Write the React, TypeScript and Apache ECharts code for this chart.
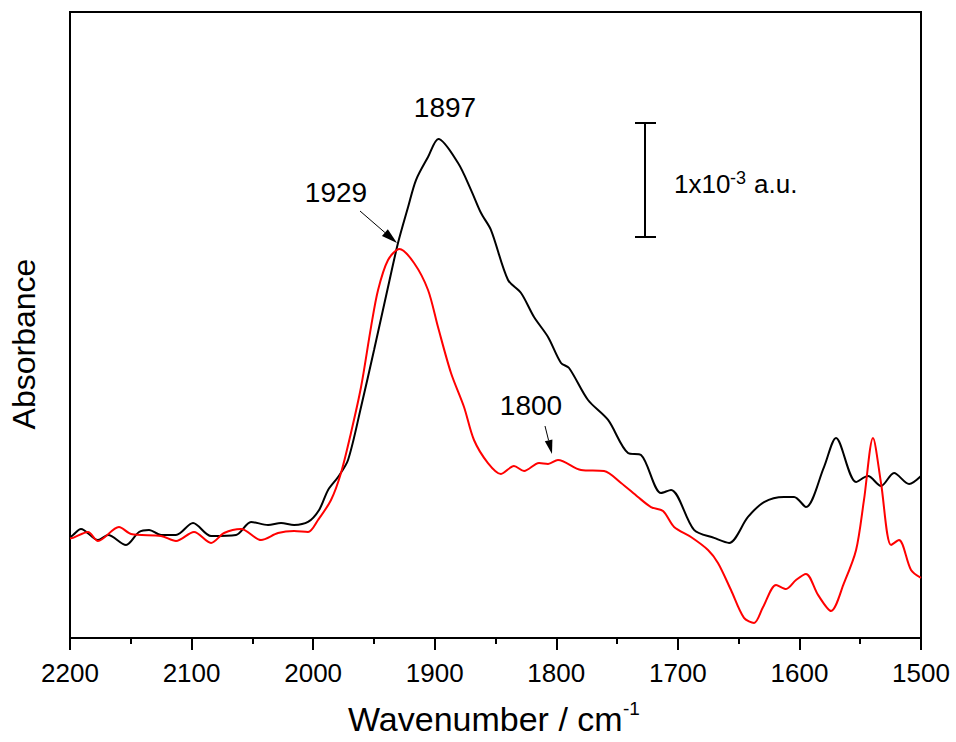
import React, { useEffect, useRef } from "react";
import * as echarts from "echarts";

// Wavenumber (cm-1) and absorbance (units of 1e-3 a.u., arbitrary offset)
const blackWn = [2200, 2197.5, 2191, 2177, 2168.7, 2153.9, 2143.2, 2135, 2125.1, 2112.8, 2098.8, 2084, 2063.4, 2051.1, 2037.1, 2026.4, 2015.7, 2004.2, 1995.1, 1987.7, 1979.5, 1971.3, 1960.6, 1949.9, 1938.4, 1930.2, 1921.9, 1915.4, 1905.5, 1897, 1880.8, 1870.1, 1861.9, 1853.7, 1839.7, 1829, 1818.3, 1806.8, 1796.1, 1789.5, 1773.9, 1757.4, 1741, 1730.3, 1713.8, 1705.6, 1686.7, 1670.2, 1657.9, 1642.3, 1629.1, 1612.7, 1604.4, 1594.6, 1579.8, 1569.9, 1553.4, 1543.6, 1532.9, 1522.2, 1509.8, 1500];
const blackAbs = [0.83, 0.851, 0.904, 0.807, 0.851, 0.763, 0.877, 0.895, 0.851, 0.851, 0.956, 0.842, 0.851, 0.965, 0.939, 0.956, 0.939, 0.965, 1.07, 1.246, 1.36, 1.509, 1.974, 2.474, 3.026, 3.412, 3.728, 3.965, 4.167, 4.325, 4.114, 3.877, 3.675, 3.526, 3.088, 2.974, 2.763, 2.588, 2.36, 2.316, 2.035, 1.86, 1.57, 1.553, 1.219, 1.246, 0.895, 0.825, 0.781, 1.009, 1.14, 1.184, 1.184, 1.096, 1.447, 1.702, 1.316, 1.368, 1.281, 1.395, 1.298, 1.368];

const redWn = [2200, 2197.5, 2185.2, 2177, 2159.7, 2149.8, 2125.1, 2112.8, 2098, 2084, 2073.3, 2059.3, 2042.9, 2028.9, 2015.7, 2004.2, 1996, 1985.3, 1977.1, 1968.9, 1960.6, 1952.4, 1946.6, 1938.4, 1929, 1917, 1905.5, 1897.3, 1886.6, 1875.9, 1867.7, 1856.2, 1845.5, 1834.8, 1826.5, 1814.2, 1806.8, 1798.6, 1779.6, 1760.7, 1746.7, 1732.8, 1722.1, 1712.2, 1703.1, 1689.2, 1675.2, 1667, 1656.3, 1645.6, 1637.3, 1629.9, 1619.2, 1611, 1602.8, 1594.6, 1584.7, 1574, 1563.3, 1553.4, 1546.9, 1539.5, 1532.9, 1524.6, 1518.1, 1508.2, 1500];
const redAbs = [0.82, 0.825, 0.877, 0.798, 0.921, 0.86, 0.842, 0.798, 0.877, 0.781, 0.868, 0.904, 0.807, 0.868, 0.886, 0.877, 0.982, 1.158, 1.395, 1.746, 2.149, 2.675, 3.0, 3.263, 3.36, 3.237, 3.0, 2.675, 2.272, 1.974, 1.684, 1.482, 1.386, 1.456, 1.412, 1.482, 1.474, 1.509, 1.421, 1.412, 1.307, 1.184, 1.096, 1.061, 0.921, 0.833, 0.719, 0.605, 0.368, 0.123, 0.079, 0.219, 0.412, 0.377, 0.456, 0.509, 0.325, 0.184, 0.43, 0.719, 1.158, 1.702, 1.307, 0.763, 0.807, 0.544, 0.474];

const xTicks = [2200, 2100, 2000, 1900, 1800, 1700, 1600, 1500];

const FONT = "'Liberation Sans', Arial, sans-serif";

export default function App() {
  const ref = useRef<HTMLDivElement>(null);
  useEffect(() => {
    if (!ref.current) return;
    const chart = echarts.init(ref.current, undefined, { renderer: "svg" });
    const black = blackWn.map((w, i) => [w, blackAbs[i]]);
    const red = redWn.map((w, i) => [w, redAbs[i]]);
    const arrow = (x1: number, y1: number, x2: number, y2: number, head: number) => {
      const dx = x2 - x1, dy = y2 - y1;
      const len = Math.sqrt(dx * dx + dy * dy);
      const ux = dx / len, uy = dy / len;
      const bx = x2 - ux * head, by = y2 - uy * head;
      const px = -uy * head * 0.28, py = ux * head * 0.28;
      return [
        { type: "line", shape: { x1, y1, x2: bx, y2: by }, style: { stroke: "#000", lineWidth: 1 } },
        { type: "polygon", shape: { points: [[x2, y2], [bx + px, by + py], [bx - px, by - py]] }, style: { fill: "#000" } },
      ];
    };
    chart.setOption({
      animation: false,
      backgroundColor: "#fff",
      grid: { left: 70, right: 35, top: 12, bottom: 104, show: true, borderColor: "#000", borderWidth: 2, backgroundColor: "transparent" },
      xAxis: {
        type: "value",
        inverse: true,
        min: 1500,
        max: 2200,
        interval: 100,
        axisLine: { show: true, onZero: false, lineStyle: { color: "#000", width: 2 } },
        axisTick: { show: true, inside: false, length: 12, lineStyle: { color: "#000", width: 2 } },
        minorTick: { show: true, splitNumber: 2, length: 6, lineStyle: { color: "#000", width: 2 } },
        splitLine: { show: false },
        axisLabel: {
          color: "#000", fontSize: 26, fontFamily: FONT, margin: 22,
          formatter: (v: number) => (xTicks.includes(v) ? String(v) : ""),
        },
      },
      yAxis: {
        type: "value",
        min: -0.053,
        max: 5.439,
        axisLine: { show: true, onZero: false, lineStyle: { color: "#000", width: 2 } },
        axisTick: { show: false },
        axisLabel: { show: false },
        splitLine: { show: false },
      },
      series: [
        { type: "line", data: black, showSymbol: false, smooth: 0.3, lineStyle: { color: "#000", width: 2 }, z: 3 },
        { type: "line", data: red, showSymbol: false, smooth: 0.3, lineStyle: { color: "#ff0000", width: 2 }, z: 4 },
      ],
      graphic: [
        { type: "text", x: 24, y: 344, rotation: Math.PI / 2, style: { text: "Absorbance", font: `32px ${FONT}`, fill: "#000", align: "center", verticalAlign: "middle" } },
        { type: "text", x: 348, y: 719, style: { text: "Wavenumber / cm", font: `34px ${FONT}`, fill: "#000", align: "left", verticalAlign: "middle" } },
        { type: "text", x: 623, y: 708, style: { text: "-1", font: `19px ${FONT}`, fill: "#000", align: "left", verticalAlign: "middle" } },
        { type: "text", x: 445, y: 107, style: { text: "1897", font: `28px ${FONT}`, fill: "#000", align: "center", verticalAlign: "middle" } },
        { type: "text", x: 336, y: 192, style: { text: "1929", font: `28px ${FONT}`, fill: "#000", align: "center", verticalAlign: "middle" } },
        { type: "text", x: 531, y: 405, style: { text: "1800", font: `28px ${FONT}`, fill: "#000", align: "center", verticalAlign: "middle" } },
        ...arrow(360, 211, 397, 243, 16),
        ...arrow(545, 426, 552, 454, 14),
        { type: "line", shape: { x1: 645, y1: 123, x2: 645, y2: 237 }, style: { stroke: "#000", lineWidth: 2 } },
        { type: "line", shape: { x1: 635, y1: 123, x2: 656, y2: 123 }, style: { stroke: "#000", lineWidth: 2 } },
        { type: "line", shape: { x1: 635, y1: 237, x2: 656, y2: 237 }, style: { stroke: "#000", lineWidth: 2 } },
        { type: "text", x: 674, y: 184, style: { text: "1x10", font: `26px ${FONT}`, fill: "#000", align: "left", verticalAlign: "middle" } },
        { type: "text", x: 730, y: 178, style: { text: "-3", font: `18px ${FONT}`, fill: "#000", align: "left", verticalAlign: "middle" } },
        { type: "text", x: 754, y: 184, style: { text: "a.u.", font: `26px ${FONT}`, fill: "#000", align: "left", verticalAlign: "middle" } },
      ],
    });
    return () => chart.dispose();
  }, []);
  return <div ref={ref} style={{ position: "fixed", left: 0, top: 0, width: 956, height: 742, background: "#fff" }} />;
}
